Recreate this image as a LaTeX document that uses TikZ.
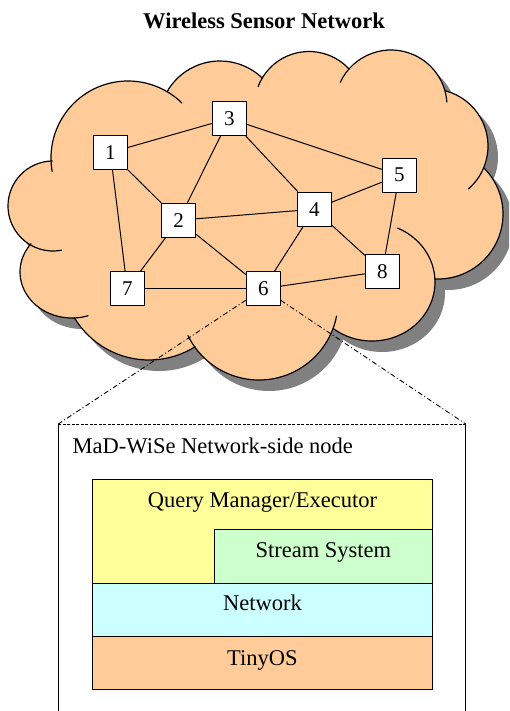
\documentclass[tikz,border=0pt]{standalone}
\usepackage{fontspec}
\setmainfont{Liberation Serif}
\usetikzlibrary{calc}

\definecolor{cloudpeach}{HTML}{FFCC99}
\definecolor{shadowgray}{HTML}{808080}
\definecolor{qmyellow}{HTML}{FFFF99}
\definecolor{ssgreen}{HTML}{CCFFCC}
\definecolor{netcyan}{HTML}{CCFFFF}
\definecolor{osorange}{HTML}{FFCC99}

% filled body of the cloud: lobes plus the core polygon through their centres
\newcommand\cloudbody[1]{%
  \fill[#1] (128,158) circle[radius=77];
  \fill[#1] (220,122) circle[radius=61];
  \fill[#1] (309,106) circle[radius=54.5];
  \fill[#1] (391,106) circle[radius=56];
  \fill[#1] (431,146) circle[radius=57];
  \fill[#1] (438,214) circle[radius=65];
  \fill[#1] (372,282) circle[x radius=63, y radius=59];
  \fill[#1] (259,301) circle[radius=79];
  \fill[#1] (149,273) circle[radius=87];
  \fill[#1] (72,272) circle[x radius=52, y radius=46];
  \fill[#1] (53,206) circle[radius=45];
  \fill[#1] (128,158) -- (220,122) -- (309,106) -- (391,106) -- (431,146)
     -- (438,214) -- (372,282) -- (259,301) -- (149,273) -- (72,272)
     -- (53,206) -- cycle;
}
% one outline arc of a lobe: cx, cy, rx, ry, start angle, end angle
\newcommand\lobearc[6]{%
  \draw[cloudline] ({#1+#3*cos(#5)},{#2+#4*sin(#5)})
    arc[start angle=#5, end angle=#6, x radius=#3, y radius=#4];}

\begin{document}
\begin{tikzpicture}[x=1pt, y=-1pt,
  cloudline/.style={line width=1.2pt, line cap=round},
  edge/.style={line width=1pt},
  sensor/.style={draw, line width=1.1pt, fill=white, minimum width=34pt,
    minimum height=34pt, inner sep=0pt, font=\fontsize{21}{24}\selectfont},
  layer/.style={draw, line width=1.1pt, anchor=north west, inner sep=0pt},
  lbl/.style={inner sep=0pt, font=\fontsize{22.5}{27}\selectfont},
  zoomline/.style={line width=0.9pt, dash pattern=on 5pt off 2.5pt on 1pt off 2.5pt},
  boxside/.style={line width=1pt},
  boxtop/.style={line width=1pt, dash pattern=on 3pt off 1.5pt}]

\useasboundingbox (0,0) rectangle (509,711);
\clip (0,0) rectangle (509,711);

% title
\node[lbl, font=\fontsize{22.5}{27}\selectfont\bfseries, anchor=base] (title)
  at (264,28.3) {Wireless Sensor Network};

% cloud: shadow, body, outline
\cloudbody{shadowgray, shift={(10,11)}}
\cloudbody{cloudpeach}
\lobearc{128}{158}{77}{77}{170}{314.5}
\lobearc{220}{122}{61}{61}{210}{314}
\lobearc{309}{106}{54.5}{54.5}{201}{317}
\lobearc{391}{106}{56}{56}{205}{356}
\lobearc{431}{146}{57}{57}{285}{409}
\lobearc{438}{214}{65}{65}{-45}{93}
\lobearc{372}{282}{63}{59}{128}{-66}
\lobearc{259}{301}{79}{79}{154}{11}
\lobearc{149}{273}{87}{87}{149}{58}
\lobearc{72}{272}{52}{46}{218}{72}
\lobearc{53}{206}{45}{45}{269}{79}

% sensor nodes
\node[sensor] (n1) at (110.3,152.5) {1};
\node[sensor] (n2) at (178.7,220.2) {2};
\node[sensor] (n3) at (229.3,118.5) {3};
\node[sensor] (n4) at (314.3,209.2) {4};
\node[sensor] (n5) at (399.3,175.2) {5};
\node[sensor] (n6) at (263.3,288.7) {6};
\node[sensor] (n7) at (127.3,288.7) {7};
\node[sensor] (n8) at (382.3,271.3) {8};

% detail box corners
\coordinate (bnw) at (58.3,424);
\coordinate (bne) at (465.7,424);
\coordinate (bsw) at (58.3,730);
\coordinate (bse) at (465.7,730);

% links and zoom lines
\foreach \a/\b in {n1/n3, n1/n2, n1/n7, n3/n2, n3/n4, n3/n5, n2/n4, n2/n7,
                   n2/n6, n4/n5, n4/n6, n4/n8, n5/n8, n7/n6, n6/n8}
  \draw[edge] (\a) -- (\b);
\draw[zoomline] (n6) -- (bnw);
\draw[zoomline] (n6) -- (bne);

% detail box
\draw[boxside] (bsw) -- (bnw);
\draw[boxtop] (bnw) -- (bne);
\draw[boxside] (bne) -- (bse);
\node[lbl, anchor=base west] (boxtitle) at (72.5,453.3) {MaD-WiSe Network-side node};

% protocol stack
\node[layer, fill=qmyellow, minimum width=340.3pt, minimum height=104pt] (qm) at (91.7,478.7) {};
\node[layer, fill=ssgreen, minimum width=218.3pt, minimum height=53.4pt] (ss) at (213.7,529.3) {};
\node[layer, fill=netcyan, minimum width=340.3pt, minimum height=53.3pt] (net) at (91.7,582.7) {};
\node[layer, fill=osorange, minimum width=340.3pt, minimum height=53.3pt] (os) at (91.7,636) {};
\node[lbl, anchor=base] (qmtext) at ($(qm.north)+(0,28.6)$) {Query Manager/Executor};
\node[lbl, anchor=base] (sstext) at ($(ss.north)+(0,28.4)$) {Stream System};
\node[lbl, anchor=base] (nettext) at ($(net.north)+(0,28)$) {Network};
\node[lbl, anchor=base] (ostext) at ($(os.north)+(0,29)$) {TinyOS};
\end{tikzpicture}
\end{document}
